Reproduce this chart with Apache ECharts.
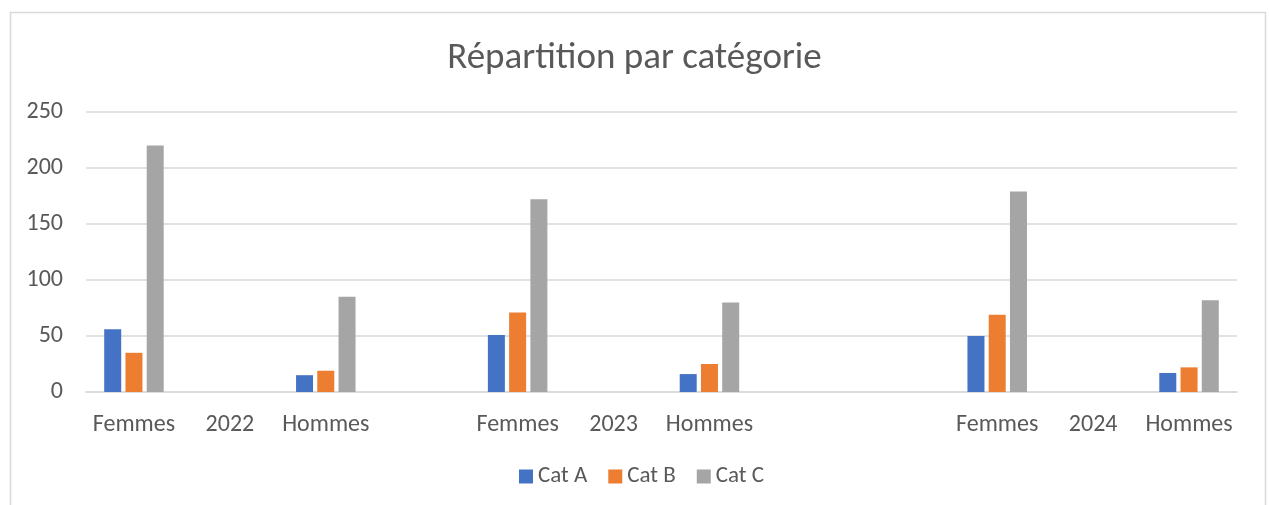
<!DOCTYPE html>
<html>
<head>
<meta charset="utf-8">
<script src="https://cdn.jsdelivr.net/npm/echarts@6/dist/echarts.min.js"></script>
<style>
  html, body { margin: 0; padding: 0; background: #fff; }
  #chart { width: 1269px; height: 505px; }
</style>
</head>
<body>
<div id="chart"></div>
<script>
// axis categories (empty strings are the blank slots between years)
const categories = ["Femmes", "2022", "Hommes", "", "Femmes", "2023", "Hommes", "", "", "Femmes", "2024", "Hommes"];
const catA = [56, null, 15, null, 51, null, 16, null, null, 50, null, 17];
const catB = [35, null, 19, null, 71, null, 25, null, null, 69, null, 22];
const catC = [220, null, 85, null, 172, null, 80, null, null, 179, null, 82];
const seriesNames = ["Cat A", "Cat B", "Cat C"];
const colors = ["#4472C4", "#ED7D31", "#A5A5A5"];

const font = "Carlito, 'Open Sans', 'Noto Sans', sans-serif";
const chart = echarts.init(document.getElementById("chart"));

const barSeries = [catA, catB, catC].map((d, i) => ({
  name: seriesNames[i],
  type: "bar",
  data: d,
  barWidth: 17,
  barGap: "25%",
  itemStyle: { color: colors[i] }
}));

chart.setOption({
  animation: false,
  backgroundColor: "#fff",
  title: {
    text: "Répartition par catégorie",
    left: "center",
    top: 35,
    textStyle: { color: "#595959", fontSize: 37, fontWeight: "normal", fontFamily: font }
  },
  legend: {
    data: seriesNames,
    bottom: 12,
    left: 514,
    itemWidth: 14,
    itemHeight: 14,
    itemGap: 21,
    icon: "rect",
    textStyle: { color: "#595959", fontSize: 23, fontFamily: font }
  },
  grid: { left: 86, right: 32, top: 112, bottom: 113, containLabel: false },
  xAxis: {
    type: "category",
    data: categories,
    axisLine: { lineStyle: { color: "#d9d9d9", width: 1.5 } },
    axisTick: { show: false },
    axisLabel: { color: "#595959", fontSize: 24, fontFamily: font, margin: 21, interval: 0 }
  },
  yAxis: {
    type: "value",
    min: 0,
    max: 250,
    interval: 50,
    axisLine: { show: false },
    axisTick: { show: false },
    splitLine: { lineStyle: { color: "#d9d9d9", width: 1.5 } },
    axisLabel: { color: "#595959", fontSize: 24, fontFamily: font, margin: 23 }
  },
  graphic: [{
    type: "rect",
    shape: { x: 10.5, y: 12.5, width: 1255, height: 500 },
    style: { fill: null, stroke: "#d9d9d9", lineWidth: 1.5 },
    silent: true
  }],
  series: barSeries
});
</script>
</body>
</html>
